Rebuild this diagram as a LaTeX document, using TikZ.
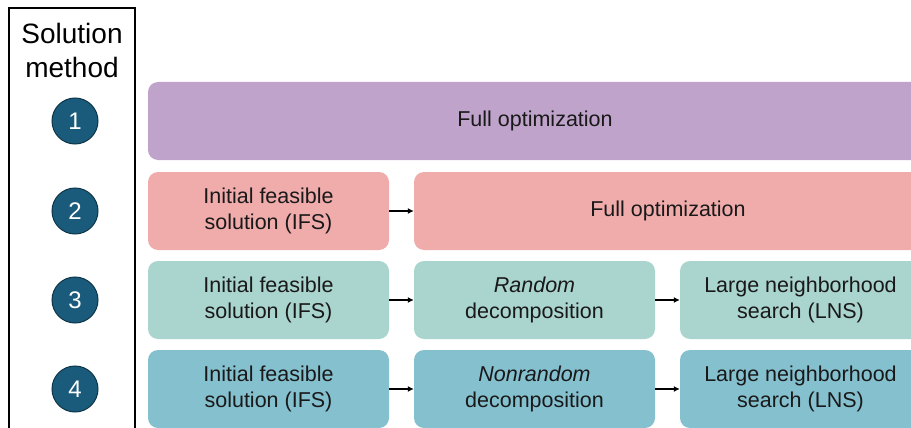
\documentclass[tikz,border=0pt]{standalone}
\usepackage{fontspec}
\setsansfont{Liberation Sans}
\usetikzlibrary{arrows.meta}
\definecolor{fullpurple}{HTML}{BFA3CB}
\definecolor{ifspink}{HTML}{F0ABAB}
\definecolor{randmint}{HTML}{AAD4CE}
\definecolor{nonrandblue}{HTML}{85C0CF}
\definecolor{numfill}{HTML}{1A5B7C}
\definecolor{numdraw}{HTML}{0E3549}

\begin{document}
\begin{tikzpicture}[x=1pt,y=-1pt,font=\sffamily\fontsize{21.5}{26}\selectfont,
	stage/.style={rounded corners=10pt,minimum height=78pt,align=center,inner sep=0pt,text=black!90},
	num/.style={circle,minimum size=46pt,inner sep=0pt,fill=numfill,draw=numdraw,line width=1pt,text=white,font=\sffamily\fontsize{24}{28}\selectfont},
	flow/.style={-{Latex[length=6pt,width=6pt]},line width=1.3pt}]
	\useasboundingbox (0,0) rectangle (911,428);
	\clip (0,0) rectangle (911,428);
	% method column
	\draw[line width=1.5pt] (9,440) |- (135,8) -- (135,440);
	\node[align=center,font=\sffamily\fontsize{28}{34}\selectfont] (head) at (72,50) {Solution\\method};
	\foreach \i/\y in {1/121,2/211,3/300,4/389}
		\node[num] (n\i) at (75,\y) {\i};
	% row 1
	\node[stage,fill=fullpurple,minimum width=774pt] (full1) at (535,121) {Full optimization};
	% row 2
	\node[stage,fill=ifspink,minimum width=241pt] (ifs2) at (268.5,211) {Initial feasible\\solution (IFS)};
	\node[stage,fill=ifspink,minimum width=508pt] (full2) at (668,211) {Full optimization};
	% row 3
	\node[stage,fill=randmint,minimum width=241pt] (ifs3) at (268.5,300) {Initial feasible\\solution (IFS)};
	\node[stage,fill=randmint,minimum width=241pt] (dec3) at (534.5,300) {\textit{Random}\\decomposition};
	\node[stage,fill=randmint,minimum width=241pt] (lns3) at (800.5,300) {Large neighborhood\\search (LNS)};
	% row 4
	\node[stage,fill=nonrandblue,minimum width=241pt] (ifs4) at (268.5,389) {Initial feasible\\solution (IFS)};
	\node[stage,fill=nonrandblue,minimum width=241pt] (dec4) at (534.5,389) {\textit{Nonrandom}\\decomposition};
	\node[stage,fill=nonrandblue,minimum width=241pt] (lns4) at (800.5,389) {Large neighborhood\\search (LNS)};
	\draw[flow] (ifs2) -- (full2);
	\draw[flow] (ifs3) -- (dec3);
	\draw[flow] (dec3) -- (lns3);
	\draw[flow] (ifs4) -- (dec4);
	\draw[flow] (dec4) -- (lns4);
\end{tikzpicture}
\end{document}
